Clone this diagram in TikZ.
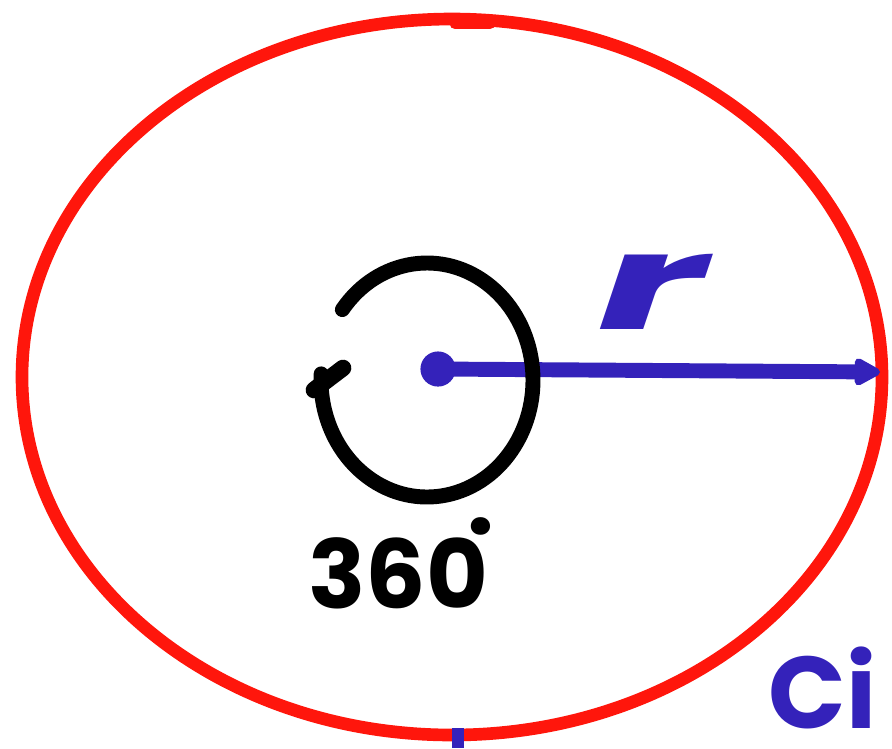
\documentclass[tikz,border=0pt]{standalone}
\usepackage{fontspec}
\setmainfont{Poppins}
\usetikzlibrary{arrows.meta}
\definecolor{pen red}{RGB}{255,22,12}
\definecolor{pen blue}{RGB}{52,34,186}
\tikzset{
  rim line/.style={draw=pen red, line width=7.2pt},
  turn line/.style={draw=black, line width=8.5pt, line cap=round},
  radius line/.style={draw=pen blue, line width=8.5pt, line cap=round},
  dotnode/.style={circle, fill=pen blue, inner sep=0pt, minimum size=20pt},
  penlabel/.style={inner sep=0pt, font=\bfseries}
}
\begin{document}
\begin{tikzpicture}[x=0.02cm,y=-0.02cm]
\useasboundingbox (0,0) rectangle (892,748);
% outer circle
\draw[rim line] (452,377) ellipse [x radius=430, y radius=358];
\draw[draw=pen red, line width=6pt, line cap=round] (455,24) -- (490,24);
% centre and radius
\node[dotnode] (ctr) at (438,369) {};
\coordinate (rim) at (880,372);
\draw[radius line, -{Triangle[length=17pt,width=17pt,round]}] (ctr.center) -- (rim);
\node[penlabel, text=pen blue, font=\bfseries\itshape\fontsize{76}{84}\selectfont] (rlab) at (652,292) {\scalebox{1.9}[1]{r}};
% full turn
\draw[turn line] (427,380) ++(-143:106 and 117) arc [start angle=-143, end angle=183, x radius=106, y radius=117] coordinate (turnend);
\draw[turn line, line width=9.5pt] (314,390) -- (343,368);
\node[penlabel, anchor=base west, font=\bfseries\fontsize{54}{60}\selectfont] (deg) at (308,608) {360\kern-0.22em\raisebox{0.78em}{.}};
% label
\node[penlabel, anchor=base west, text=pen blue, font=\bfseries\fontsize{58}{64}\selectfont] (name) at (768,728) {Ci};
\draw[draw=pen blue, line width=7pt] (458,728) -- (458,748);
\end{tikzpicture}
\end{document}
